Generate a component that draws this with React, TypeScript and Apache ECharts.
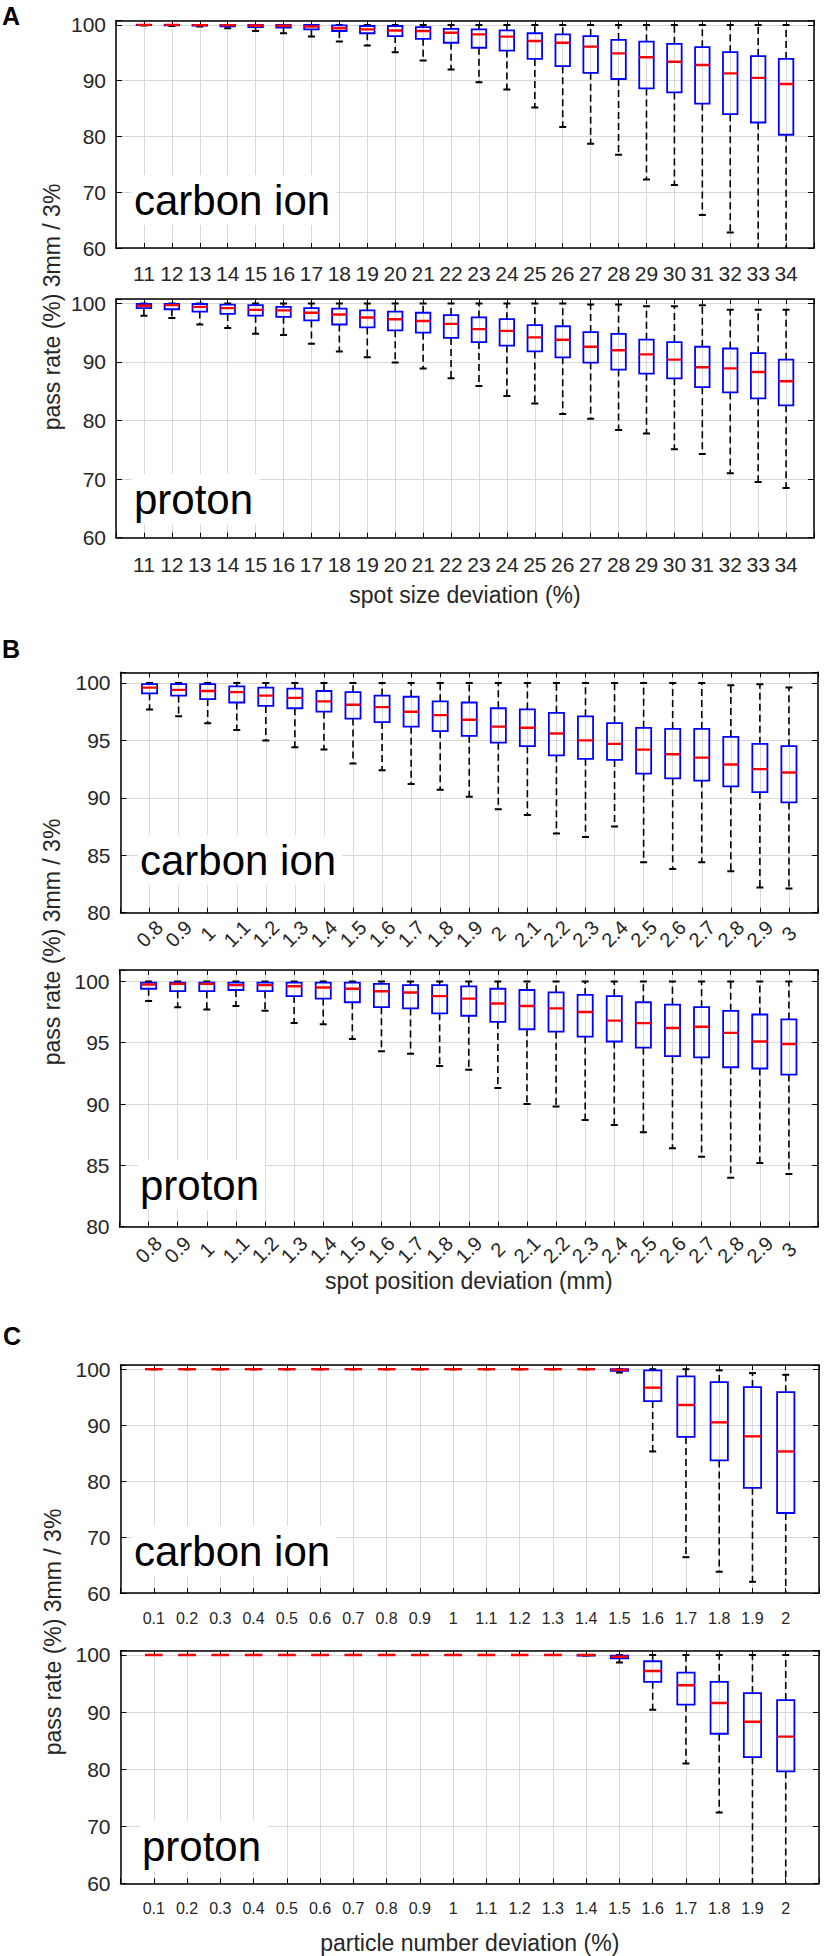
import React, { useEffect, useRef } from "react";
import * as echarts from "echarts";

// ---------- categories ----------
const A_LABELS = ["11","12","13","14","15","16","17","18","19","20","21","22","23","24","25","26","27","28","29","30","31","32","33","34"];
const B_LABELS = ["0.8","0.9","1","1.1","1.2","1.3","1.4","1.5","1.6","1.7","1.8","1.9","2","2.1","2.2","2.3","2.4","2.5","2.6","2.7","2.8","2.9","3"];
const C_LABELS = ["0.1","0.2","0.3","0.4","0.5","0.6","0.7","0.8","0.9","1","1.1","1.2","1.3","1.4","1.5","1.6","1.7","1.8","1.9","2"];

// ---------- box values: [lower whisker, q1, median, q3, upper whisker] ----------
const A_CARBON = [
  [99.9, 99.95, 100, 100, 100],
  [99.8, 99.9, 100, 100, 100],
  [99.7, 99.85, 99.95, 100, 100],
  [99.4, 99.75, 99.95, 100, 100],
  [98.9, 99.6, 99.9, 100, 100],
  [98.5, 99.5, 99.85, 100, 100],
  [97.9, 99.2, 99.7, 100, 100],
  [97.0, 98.9, 99.4, 99.9, 100],
  [96.3, 98.5, 99.2, 99.8, 100],
  [95.1, 98.0, 99.0, 99.8, 100],
  [93.6, 97.5, 98.9, 99.6, 100],
  [92.0, 96.8, 98.6, 99.3, 100],
  [89.7, 95.9, 98.3, 99.2, 100],
  [88.4, 95.4, 97.9, 99.0, 100],
  [85.2, 93.9, 97.1, 98.5, 100],
  [81.7, 92.6, 96.8, 98.3, 100],
  [78.7, 91.4, 96.1, 98.0, 100],
  [76.7, 90.3, 94.9, 97.3, 100],
  [72.3, 88.6, 94.2, 97.0, 100],
  [71.3, 87.9, 93.4, 96.6, 100],
  [65.9, 85.9, 92.8, 96.0, 100],
  [62.8, 84.0, 91.3, 95.1, 100],
  [58.0, 82.5, 90.5, 94.4, 100],
  [58.0, 80.3, 89.4, 93.9, 100],
];
const A_PROTON = [
  [97.9, 99.2, 99.6, 99.9, 100],
  [97.5, 99.0, 99.7, 99.9, 100],
  [96.4, 98.6, 99.4, 99.9, 100],
  [95.8, 98.2, 99.2, 99.8, 100],
  [94.8, 97.9, 98.9, 99.7, 100],
  [94.6, 97.7, 98.8, 99.4, 100],
  [93.1, 97.1, 98.4, 99.2, 100],
  [91.8, 96.4, 98.1, 99.1, 100],
  [90.8, 95.9, 97.6, 98.8, 100],
  [89.9, 95.4, 97.3, 98.6, 100],
  [88.9, 95.0, 97.0, 98.4, 100],
  [87.2, 94.1, 96.5, 98.0, 100],
  [85.9, 93.4, 95.6, 97.6, 100],
  [84.2, 92.8, 95.3, 97.3, 100],
  [82.9, 91.8, 94.2, 96.3, 100],
  [81.1, 90.8, 93.8, 96.1, 100],
  [80.3, 89.9, 92.6, 95.1, 99.8],
  [78.4, 88.7, 92.0, 94.8, 99.8],
  [77.8, 88.0, 91.3, 93.8, 99.5],
  [75.1, 87.2, 90.4, 93.4, 99.5],
  [74.3, 85.7, 89.1, 92.6, 99.7],
  [71.0, 84.8, 88.9, 92.3, 98.9],
  [69.5, 83.8, 88.3, 91.5, 98.9],
  [68.5, 82.6, 86.7, 90.4, 98.9],
];
const B_CARBON = [
  [97.7, 99.1, 99.6, 99.9, 100],
  [97.1, 98.9, 99.4, 99.9, 100],
  [96.5, 98.6, 99.3, 99.9, 100],
  [95.9, 98.3, 99.2, 99.7, 100],
  [95.0, 98.0, 98.9, 99.6, 100],
  [94.4, 97.8, 98.7, 99.5, 100],
  [94.2, 97.5, 98.4, 99.3, 100],
  [93.0, 96.9, 98.1, 99.2, 100],
  [92.4, 96.6, 97.9, 98.9, 100],
  [91.2, 96.2, 97.5, 98.8, 100],
  [90.7, 95.8, 97.2, 98.4, 100],
  [90.1, 95.4, 96.8, 98.3, 100],
  [89.0, 94.8, 96.2, 97.8, 100],
  [88.5, 94.5, 96.1, 97.7, 100],
  [86.9, 93.7, 95.6, 97.4, 100],
  [86.6, 93.4, 95.0, 97.1, 100],
  [87.5, 93.3, 94.7, 96.5, 100],
  [84.4, 92.1, 94.2, 96.1, 100],
  [83.8, 91.7, 93.8, 96.0, 100],
  [84.4, 91.5, 93.5, 96.0, 100],
  [83.6, 91.0, 92.9, 95.3, 99.8],
  [82.2, 90.5, 92.5, 94.7, 99.9],
  [82.1, 89.6, 92.2, 94.5, 99.6],
];
const B_PROTON = [
  [98.4, 99.4, 99.75, 99.9, 100],
  [97.9, 99.2, 99.8, 99.9, 100],
  [97.7, 99.2, 99.8, 99.9, 100],
  [98.0, 99.3, 99.7, 99.9, 100],
  [97.6, 99.2, 99.7, 99.9, 100],
  [96.6, 98.8, 99.6, 99.9, 100],
  [96.5, 98.6, 99.5, 99.9, 100],
  [95.3, 98.3, 99.4, 99.9, 100],
  [94.3, 97.9, 99.2, 99.8, 100],
  [94.1, 97.8, 99.1, 99.7, 100],
  [93.1, 97.4, 98.8, 99.7, 100],
  [92.8, 97.2, 98.6, 99.6, 100],
  [91.3, 96.7, 98.2, 99.4, 100],
  [90.0, 96.1, 98.0, 99.3, 100],
  [89.8, 95.9, 97.8, 99.1, 100],
  [88.7, 95.5, 97.5, 98.9, 100],
  [88.3, 95.1, 96.8, 98.8, 100],
  [87.7, 94.6, 96.6, 98.3, 100],
  [86.4, 93.9, 96.2, 98.1, 100],
  [85.7, 93.8, 96.3, 97.9, 100],
  [84.0, 93.0, 95.8, 97.6, 100],
  [85.2, 92.9, 95.1, 97.3, 100],
  [84.3, 92.4, 94.9, 96.9, 100],
];
const C_CARBON = [
  [100, 100, 100, 100, 100],
  [100, 100, 100, 100, 100],
  [100, 100, 100, 100, 100],
  [100, 100, 100, 100, 100],
  [100, 100, 100, 100, 100],
  [100, 100, 100, 100, 100],
  [100, 100, 100, 100, 100],
  [100, 100, 100, 100, 100],
  [100, 100, 100, 100, 100],
  [100, 100, 100, 100, 100],
  [100, 100, 100, 100, 100],
  [100, 100, 100, 100, 100],
  [100, 100, 100, 100, 100],
  [100, 100, 100, 100, 100],
  [99.4, 99.7, 99.9, 100, 100],
  [85.3, 94.3, 96.7, 99.8, 100],
  [66.4, 87.9, 93.6, 98.7, 100],
  [63.8, 83.7, 90.5, 97.7, 99.8],
  [62.0, 78.8, 88.0, 96.8, 99.3],
  [58.0, 74.3, 85.3, 95.9, 99.0],
];
const C_PROTON = [
  [100, 100, 100, 100, 100],
  [100, 100, 100, 100, 100],
  [100, 100, 100, 100, 100],
  [100, 100, 100, 100, 100],
  [100, 100, 100, 100, 100],
  [100, 100, 100, 100, 100],
  [100, 100, 100, 100, 100],
  [100, 100, 100, 100, 100],
  [100, 100, 100, 100, 100],
  [100, 100, 100, 100, 100],
  [100, 100, 100, 100, 100],
  [100, 100, 100, 100, 100],
  [100, 100, 100, 100, 100],
  [99.9, 99.9, 100, 100, 100],
  [98.7, 99.4, 99.7, 99.9, 100],
  [90.4, 95.3, 97.2, 98.9, 100],
  [81.0, 91.3, 94.7, 96.9, 100],
  [72.4, 86.2, 91.6, 95.3, 100],
  [58.0, 82.1, 88.3, 93.3, 100],
  [58.0, 79.6, 85.7, 92.1, 100],
];

const X_NAMES = ["spot size deviation (%)", "spot position deviation (mm)", "particle number deviation (%)"];
const Y_NAME = "pass rate (%) 3mm / 3%";
const ION_NAMES = ["carbon ion", "proton"];
const PANEL_LETTERS = ["A", "B", "C"];

const FONT = "'Liberation Sans', Arial, Helvetica, sans-serif";
const TICK_COLOR = "#262626";

// layout of the six plots (pixels)
const PANELS = [
  { labels: A_LABELS, data: A_CARBON, left: 116, top: 20.7, width: 698, height: 227.3, yMin: 60, yMax: 100.75, step: 10, lab: { size: 21, margin: 15, rotate: 0 }, name: null, nameGap: 0, ion: 0, textX: 132, textY: 200 },
  { labels: A_LABELS, data: A_PROTON, left: 116, top: 299, width: 698, height: 238.7, yMin: 60, yMax: 100.75, step: 10, lab: { size: 21, margin: 16, rotate: 0 }, name: X_NAMES[0], nameGap: 46, ion: 1, textX: 132, textY: 499 },
  { labels: B_LABELS, data: B_CARBON, left: 120.5, top: 672.3, width: 697.5, height: 240.4, yMin: 80, yMax: 100.93, step: 5, lab: { size: 20, margin: 21, rotate: 45 }, name: null, nameGap: 0, ion: 0, textX: 138, textY: 860 },
  { labels: B_LABELS, data: B_PROTON, left: 119.5, top: 970, width: 698.5, height: 256.7, yMin: 80, yMax: 100.93, step: 5, lab: { size: 20, margin: 23, rotate: 45 }, name: X_NAMES[1], nameGap: 35, ion: 1, textX: 138, textY: 1185 },
  { labels: C_LABELS, data: C_CARBON, left: 120.5, top: 1365, width: 698.5, height: 228, yMin: 60, yMax: 100.75, step: 10, lab: { size: 16, margin: 17, rotate: 0 }, name: null, nameGap: 0, ion: 0, textX: 132, textY: 1551 },
  { labels: C_LABELS, data: C_PROTON, left: 120.5, top: 1650.7, width: 698.5, height: 232.6, yMin: 60, yMax: 100.75, step: 10, lab: { size: 16, margin: 17, rotate: 0 }, name: X_NAMES[2], nameGap: 48, ion: 1, textX: 140, textY: 1846 },
];

const LETTER_POS = [ { x: 2, y: 16 }, { x: 2, y: 649 }, { x: 3, y: 1336 } ];
const YNAME_POS = [ { x: 52, y: 307 }, { x: 52, y: 942 }, { x: 53, y: 1632 } ];

function renderBox(params: any, api: any) {
  const x = api.value(0);
  const lo = api.value(1);
  const q1 = api.value(2);
  const md = api.value(3);
  const q3 = api.value(4);
  const hi = api.value(5);
  const pLo = api.coord([x, lo]);
  const pQ1 = api.coord([x, q1]);
  const pMd = api.coord([x, md]);
  const pQ3 = api.coord([x, q3]);
  const pHi = api.coord([x, hi]);
  const cx = pMd[0];
  const bw = api.size([1, 0])[0] * 0.52;
  const h = bw / 2;
  const cap = 3.5;
  const whisker = { stroke: "#000", lineWidth: 1.6, lineDash: [7, 4] };
  const capStyle = { stroke: "#000", lineWidth: 2 };
  return {
    type: "group",
    children: [
      { type: "line", shape: { x1: cx, y1: pQ3[1], x2: cx, y2: pHi[1] }, style: whisker },
      { type: "line", shape: { x1: cx, y1: pQ1[1], x2: cx, y2: pLo[1] }, style: whisker },
      { type: "line", shape: { x1: cx - cap, y1: pHi[1], x2: cx + cap, y2: pHi[1] }, style: capStyle },
      { type: "line", shape: { x1: cx - cap, y1: pLo[1], x2: cx + cap, y2: pLo[1] }, style: capStyle },
      { type: "rect", shape: { x: cx - h, y: pQ3[1], width: bw, height: pQ1[1] - pQ3[1] }, style: { fill: "none", stroke: "#0000ff", lineWidth: 1.8 } },
      { type: "line", shape: { x1: cx - h, y1: pMd[1], x2: cx + h, y2: pMd[1] }, style: { stroke: "#ff0000", lineWidth: 2.4 } },
    ],
  };
}

function buildOption() {
  const grid: any[] = [];
  const xAxis: any[] = [];
  const yAxis: any[] = [];
  const series: any[] = [];
  const graphic: any[] = [];

  PANELS.forEach((p, i) => {
    grid.push({ left: p.left, top: p.top, width: p.width, height: p.height, containLabel: false });
    const cats = ["", ...p.labels, ""];
    const yFmt = (v: number) => {
      const r = Math.round(v);
      return Math.abs(v - r) < 1e-6 && r % p.step === 0 ? String(r) : "";
    };
    xAxis.push({
      type: "category",
      gridIndex: i,
      position: "bottom",
      data: cats,
      boundaryGap: false,
      axisLine: { show: true, lineStyle: { color: "#000", width: 1.5 } },
      axisTick: { show: true, inside: true, length: 5, interval: 0, lineStyle: { color: "#000", width: 1 } },
      axisLabel: {
        show: true,
        interval: 0,
        rotate: p.lab.rotate,
        align: "center",
        verticalAlign: p.lab.rotate ? "middle" : "top",
        margin: p.lab.margin,
        fontSize: p.lab.size,
        fontFamily: FONT,
        color: TICK_COLOR,
      },
      splitLine: { show: true, interval: 0, lineStyle: { color: "#d9d9d9", width: 1 } },
      name: p.name || "",
      nameLocation: "middle",
      nameGap: p.nameGap,
      nameTextStyle: { fontSize: 23, fontFamily: FONT, color: TICK_COLOR },
      z: 1,
    });
    xAxis.push({
      type: "category",
      gridIndex: i,
      position: "top",
      data: cats,
      boundaryGap: false,
      axisLine: { show: true, lineStyle: { color: "#000", width: 1.5 } },
      axisTick: { show: true, inside: true, length: 5, interval: 0, lineStyle: { color: "#000", width: 1 } },
      axisLabel: { show: false },
      splitLine: { show: false },
      z: 1,
    });
    yAxis.push({
      type: "value",
      gridIndex: i,
      position: "left",
      min: p.yMin,
      max: p.yMax,
      interval: p.step,
      axisLine: { show: true, lineStyle: { color: "#000", width: 1.5 } },
      axisTick: { show: true, inside: true, length: 6, lineStyle: { color: "#000", width: 1 } },
      axisLabel: { show: true, formatter: yFmt, margin: 10, fontSize: 21, fontFamily: FONT, color: TICK_COLOR },
      splitLine: { show: true, lineStyle: { color: "#d9d9d9", width: 1.2 } },
      z: 1,
    });
    yAxis.push({
      type: "value",
      gridIndex: i,
      position: "right",
      min: p.yMin,
      max: p.yMax,
      interval: p.step,
      axisLine: { show: true, lineStyle: { color: "#000", width: 1.5 } },
      axisTick: { show: true, inside: true, length: 6, lineStyle: { color: "#000", width: 1 } },
      axisLabel: { show: false },
      splitLine: { show: false },
      z: 1,
    });
    series.push({
      type: "custom",
      xAxisIndex: 2 * i,
      yAxisIndex: 2 * i,
      clip: true,
      renderItem: renderBox,
      encode: { x: 0, y: [1, 2, 3, 4, 5] },
      data: p.data.map((d, k) => [k + 1, ...d]),
      z: 5,
    });
    graphic.push({
      type: "text",
      x: p.textX,
      y: p.textY,
      z: 20,
      style: {
        text: ION_NAMES[p.ion],
        font: `42px ${FONT}`,
        fill: "#000",
        align: "left",
        verticalAlign: "middle",
        backgroundColor: "#fff",
        padding: [2, 6, 6, 2],
      },
    });
  });

  PANEL_LETTERS.forEach((L, k) => {
    graphic.push({
      type: "text",
      x: LETTER_POS[k].x,
      y: LETTER_POS[k].y,
      z: 20,
      style: { text: L, font: `bold 25px ${FONT}`, fill: "#000", align: "left", verticalAlign: "middle" },
    });
    graphic.push({
      type: "text",
      x: YNAME_POS[k].x,
      y: YNAME_POS[k].y,
      rotation: Math.PI / 2,
      z: 20,
      style: { text: Y_NAME, font: `23px ${FONT}`, fill: TICK_COLOR, align: "center", verticalAlign: "middle" },
    });
  });

  return {
    animation: false,
    backgroundColor: "#fff",
    grid,
    xAxis,
    yAxis,
    series,
    graphic,
  };
}

export default function App() {
  const ref = useRef<HTMLDivElement>(null);
  useEffect(() => {
    document.body.style.margin = "0";
    if (!ref.current) return;
    const chart = echarts.init(ref.current, undefined, { renderer: "svg" });
    chart.setOption(buildOption() as any);
    return () => chart.dispose();
  }, []);
  return <div ref={ref} style={{ width: 827, height: 1956, background: "#fff" }} />;
}
